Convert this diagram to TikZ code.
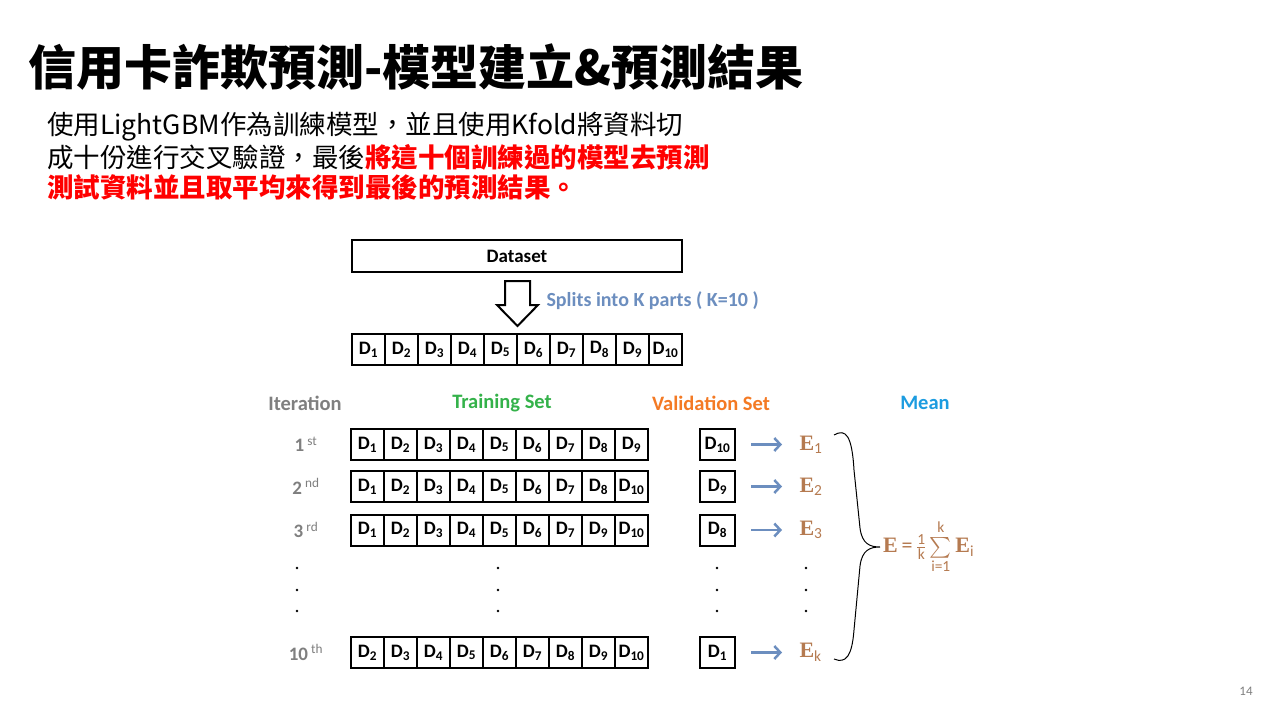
\documentclass[tikz,border=0pt]{standalone}
\usepackage{amsmath}
\usepackage{fontspec}
\setmainfont{Carlito}
\newfontfamily\cjkfont{Noto Sans CJK TC}
\newfontfamily\efont{Liberation Serif}
\usetikzlibrary{positioning}
\usetikzlibrary{arrows.meta}
\usetikzlibrary{calc}

\definecolor{itergray}{RGB}{127,127,127}
\definecolor{traingreen}{RGB}{52,178,74}
\definecolor{valorange}{RGB}{244,122,36}
\definecolor{meanblue}{RGB}{28,156,224}
\definecolor{splitblue}{RGB}{108,142,191}
\definecolor{ebrown}{RGB}{181,122,80}

\tikzset{
    cell/.style={draw, line width=2pt, minimum width=33pt, minimum height=31pt,
        inner sep=0pt, font=\fontsize{19}{19}\selectfont\bfseries},
    head/.style={font=\fontsize{20.5}{20.5}\selectfont\bfseries},
    iter/.style={text=itergray, font=\fontsize{19}{19}\selectfont\bfseries},
    elabel/.style={anchor=west, text=ebrown, font=\efont\fontsize{22}{22}\selectfont\bfseries},
    flow/.style={-{Straight Barb[length=6pt, width=13pt, line width=2.5pt]}, line width=2.6pt,
        splitblue, shorten <=15pt, shorten >=14pt}
}

\begin{document}
\begin{tikzpicture}[x=1pt, y=-1pt]
                % Page and background
                \useasboundingbox (0,0) rectangle (1280,720);
                \fill[white] (0,0) rectangle (1280,720);

                % Title and text
                \node[anchor=base west, inner sep=0pt, font=\cjkfont\fontsize{48}{48}\selectfont\bfseries] (title) at (28,85)
                    {信用卡詐欺預測-模型建立\&預測結果};
                \node[anchor=base west, inner sep=0pt, font=\cjkfont\fontsize{26.5}{26.5}\selectfont] (intro1) at (47,134)
                    {使用LightGBM作為訓練模型，並且使用Kfold將資料切};
                \node[anchor=base west, inner sep=0pt, font=\cjkfont\fontsize{26.5}{26.5}\selectfont] (intro2) at (47,167)
                    {成十份進行交叉驗證，最後\textcolor{red}{\bfseries 將這十個訓練過的模型去預測}};
                \node[anchor=base west, inner sep=0pt, text=red, font=\cjkfont\fontsize{26.5}{26.5}\selectfont\bfseries] (intro3) at (47,197)
                    {測試資料並且取平均來得到最後的預測結果。};

                % Dataset and its split
                \node[cell, minimum width=330pt, minimum height=32pt] (dataset) at (517,256) {Dataset};
                \draw[line width=2pt, fill=white] (505,281) -- (530,281) -- (530,305) -- (538,305)
                    -- (517.5,326) -- (497,305) -- (505,305) -- cycle;
                \node[anchor=west, text=splitblue, font=\fontsize{20}{20}\selectfont\bfseries] (splits) at (543,301)
                    {Splits into K parts ( K=10 )};
                \foreach \i in {1,...,10}
                    \node[cell] (d\i) at ({368.5+33*(\i-1)},349.5) {D\textsubscript{\i}};

                % Column heads
                \node[head, text=itergray] (iteration) at (305,403) {Iteration};
                \node[head, text=traingreen] (training) at (502,403) {Training Set};
                \node[head, text=valorange] (validation) at (711,403) {Validation Set};
                \node[head, text=meanblue] (mean) at (925,403) {Mean};

                % Iterations
                \foreach \r/\y/\sup/\lst/\val/\sub in {1/444.5/st/{1,2,3,4,5,6,7,8,9}/10/1,
                        2/486.5/nd/{1,2,3,4,5,6,7,8,10}/9/2,
                        3/530/rd/{1,2,3,4,5,6,7,9,10}/8/3,
                        10/652.5/th/{2,3,4,5,6,7,8,9,10}/1/k} {
                    \node[iter] (it\r) at (306,\y) {\r\,\textsuperscript{\mdseries\sup}};
                    \foreach \c [count=\j] in \lst
                        \node[cell] (t\r-\j) at ({367.5+33*(\j-1)},\y) {D\textsubscript{\c}};
                    \node[cell, minimum width=35pt] (v\r) at (717.5,\y) {D\textsubscript{\val}};
                    \node[elabel] (e\r) at (796,\y) {E\textsubscript{\rmfamily\mdseries\sub}};
                    \draw[flow] (v\r) -- (e\r);
                }

                % Dots between 3rd and 10th
                \foreach \x in {297,498,717,806}
                    \foreach \y in {568,590,611}
                        \fill (\x,\y) circle (1.3);

                % Brace and mean
                \draw[line width=1pt] (834,435) .. controls (846,428) and (852,436) .. (854,470)
                    -- (860,528) .. controls (862,544) and (870,547) .. (880,547)
                    .. controls (870,547) and (862,550) .. (860,566)
                    -- (854,630) .. controls (852,656) and (846,664) .. (834,659);
                \node[anchor=west, inner sep=0pt, text=ebrown, font=\fontsize{22}{22}\selectfont] (formula) at (883,547)
                    {{\efont\bfseries E}\,=\,$\tfrac{\text{1}}{\text{k}}\textstyle\sum\limits_{\text{i=1}}^{\text{k}}$\,{\efont\bfseries E}\textsubscript{i}};

                % Page number
                \node[text=itergray, font=\fontsize{13}{13}\selectfont] (page) at (1246,691) {14};
\end{tikzpicture}
\end{document}
